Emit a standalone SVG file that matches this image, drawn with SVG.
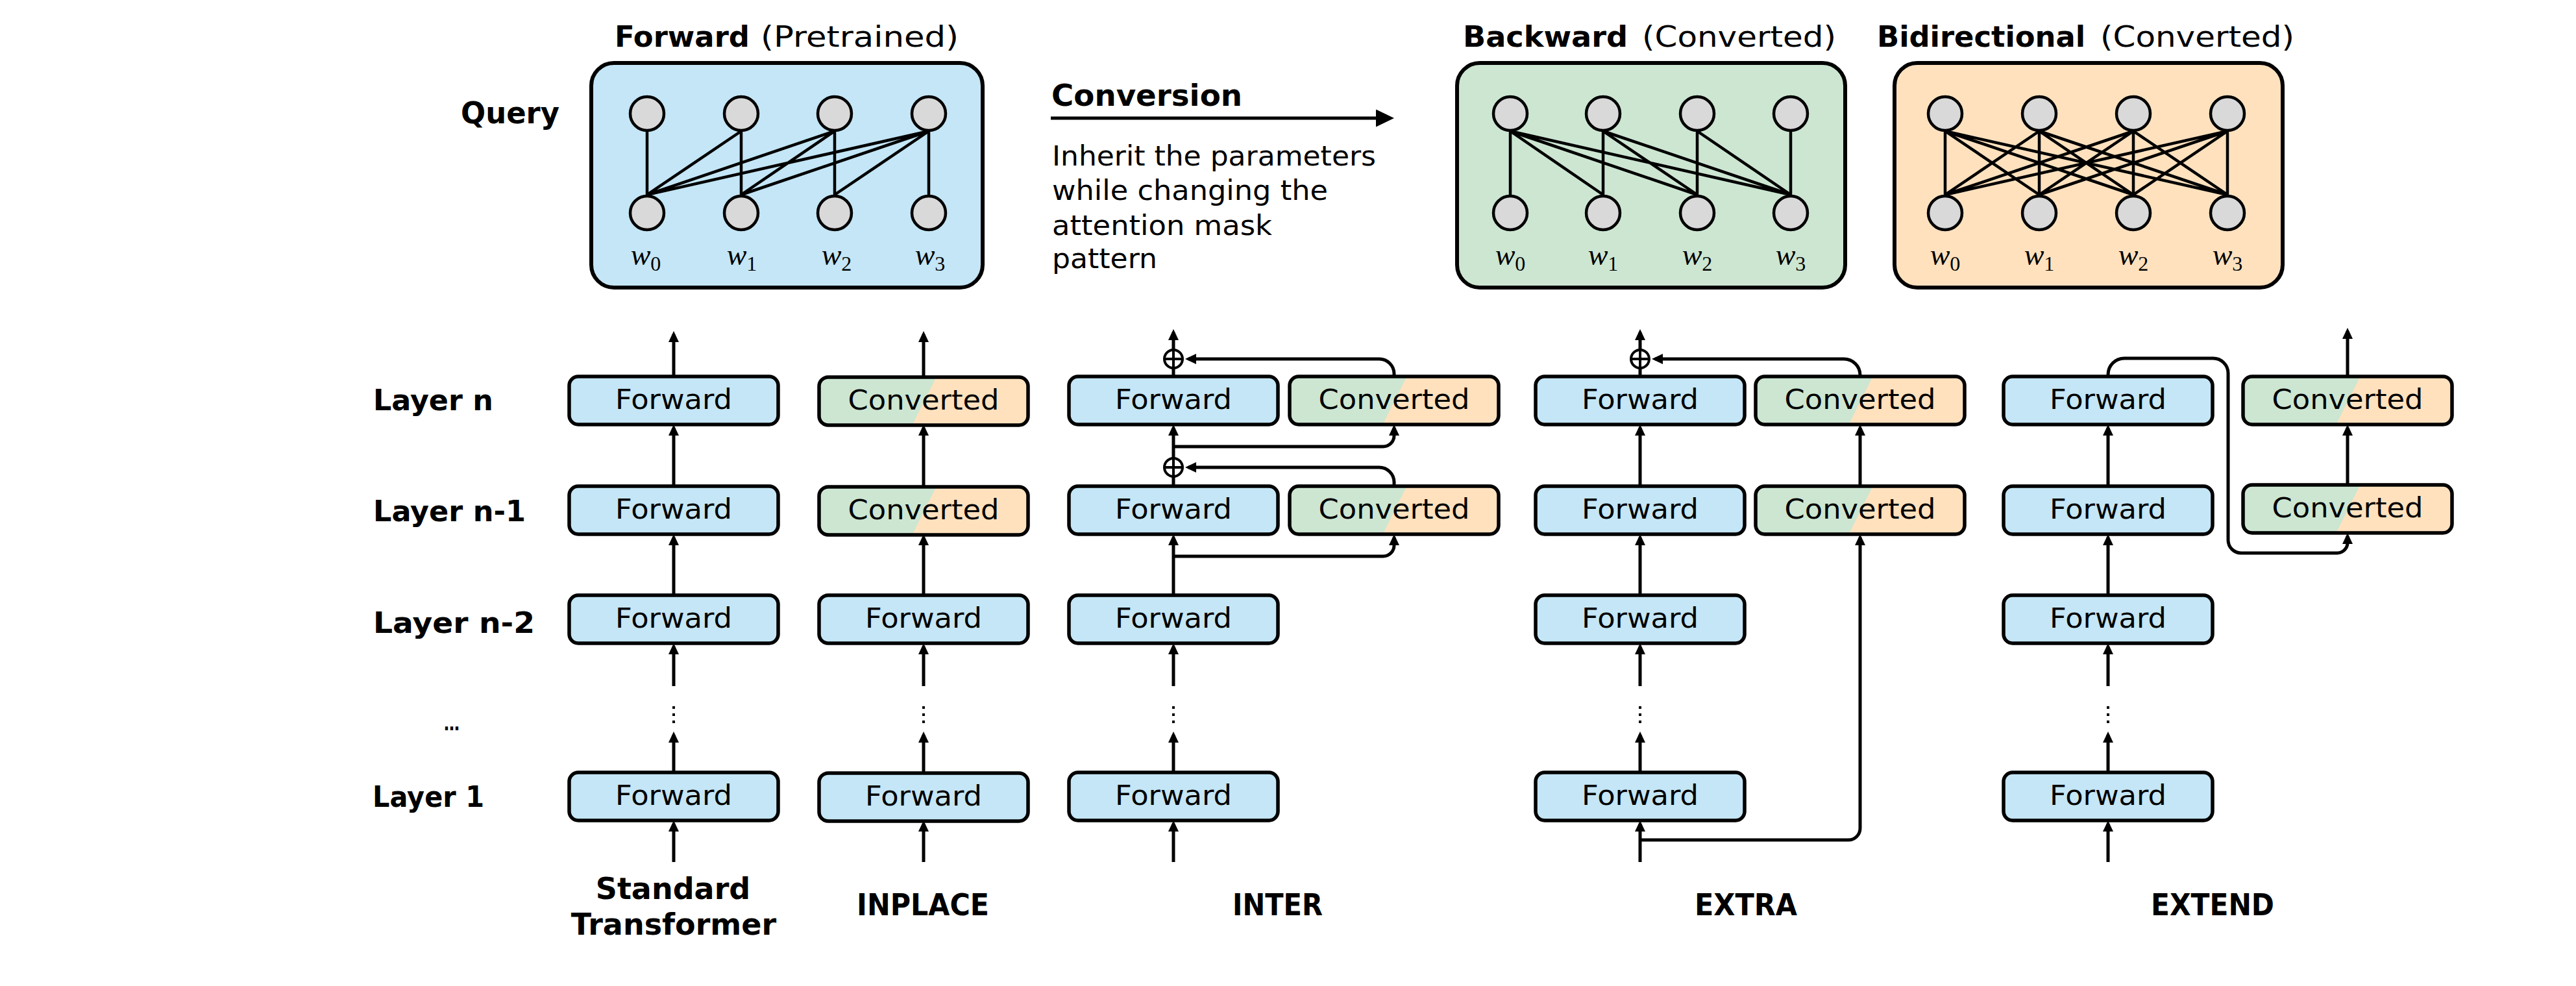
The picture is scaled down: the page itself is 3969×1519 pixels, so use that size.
<svg xmlns="http://www.w3.org/2000/svg" width="3969" height="1519" viewBox="0 0 3969 1519">
<defs>
<style>
.t{font-family:"DejaVu Sans","Liberation Sans",sans-serif;fill:#000}
.b{font-weight:700}
.box{stroke:#000;stroke-width:5.5}
.big{stroke:#000;stroke-width:6}
.fw{fill:#C4E6F6}
.bw{fill:#CCE6D2}
.bd{fill:#FFE1BE}
.cv{fill:url(#cg)}
.bt{font-size:43px;text-anchor:middle}
.ln{fill:none;stroke:#000;stroke-width:5}
.arr{marker-end:url(#ah)}
.dots{fill:none;stroke:#000;stroke-width:4;stroke-dasharray:4 7}
.edge{fill:none;stroke:#000;stroke-width:4.5}
.node{fill:#D9D9D9;stroke:#000;stroke-width:4.5}
.w{font-family:"Liberation Serif","DejaVu Serif",serif;font-style:italic;font-size:46px;text-anchor:middle}
.sub{font-size:32px;font-style:normal}
.plus{fill:#fff;stroke:#000;stroke-width:4}
</style>
<linearGradient id="cg" x1="0.003" y1="0.443" x2="1.003" y2="0.557">
<stop offset="0" stop-color="#CCE6D2"/><stop offset="0.5" stop-color="#CCE6D2"/>
<stop offset="0.5" stop-color="#FFE1BE"/><stop offset="1" stop-color="#FFE1BE"/>
</linearGradient>
<marker id="ah" viewBox="0 0 17 16" refX="12" refY="8" markerWidth="17" markerHeight="16" markerUnits="userSpaceOnUse" orient="auto"><path d="M0,0L17,8L0,16z" fill="#000"/></marker>
<marker id="ahL" viewBox="0 0 28 27" refX="3" refY="13.5" markerWidth="28" markerHeight="27" markerUnits="userSpaceOnUse" orient="auto"><path d="M0,0L28,13.5L0,27z" fill="#000"/></marker>
</defs>
<rect width="3969" height="1519" fill="#fff"/>

<!-- Top: attention patterns -->
<g id="title-forward" class="t">
<text x="947" y="72" font-size="44" class="b" textLength="208" lengthAdjust="spacingAndGlyphs">Forward</text>
<text x="1172" y="72" font-size="44" textLength="305" lengthAdjust="spacingAndGlyphs">(Pretrained)</text>
</g>
<g id="title-backward" class="t">
<text x="2254" y="72" font-size="44" class="b" textLength="254" lengthAdjust="spacingAndGlyphs">Backward</text>
<text x="2530" y="72" font-size="44" textLength="299" lengthAdjust="spacingAndGlyphs">(Converted)</text>
</g>
<g id="title-bidirectional" class="t">
<text x="2892" y="72" font-size="44" class="b" textLength="321" lengthAdjust="spacingAndGlyphs">Bidirectional</text>
<text x="3236" y="72" font-size="44" textLength="299" lengthAdjust="spacingAndGlyphs">(Converted)</text>
</g>
<g id="label-query" class="t"><text x="710" y="190" font-size="46" class="b" textLength="152" lengthAdjust="spacingAndGlyphs">Query</text></g>

<g id="panel-forward">
<rect x="911" y="97" width="603" height="346" rx="35" class="big fw"/>
<path class="edge" d="M997,202L997,300 M1142,202L997,300 M1142,202L1142,300 M1286,202L997,300 M1286,202L1142,300 M1286,202L1286,300 M1431,202L997,300 M1431,202L1142,300 M1431,202L1286,300 M1431,202L1431,300"/>
<circle cx="997" cy="175" r="26" class="node"/><circle cx="1142" cy="175" r="26" class="node"/><circle cx="1286" cy="175" r="26" class="node"/><circle cx="1431" cy="175" r="26" class="node"/>
<circle cx="997" cy="328" r="26" class="node"/><circle cx="1142" cy="328" r="26" class="node"/><circle cx="1286" cy="328" r="26" class="node"/><circle cx="1431" cy="328" r="26" class="node"/>
<text class="w" x="995" y="408">w<tspan class="sub" dy="9">0</tspan></text>
<text class="w" x="1143" y="408">w<tspan class="sub" dy="9">1</tspan></text>
<text class="w" x="1289" y="408">w<tspan class="sub" dy="9">2</tspan></text>
<text class="w" x="1433" y="408">w<tspan class="sub" dy="9">3</tspan></text>
</g>

<g id="panel-backward">
<rect x="2245" y="97" width="598" height="346" rx="35" class="big bw"/>
<path class="edge" d="M2327,202L2327,300 M2327,202L2470,300 M2327,202L2615,300 M2327,202L2759,300 M2470,202L2470,300 M2470,202L2615,300 M2470,202L2759,300 M2615,202L2615,300 M2615,202L2759,300 M2759,202L2759,300"/>
<circle cx="2327" cy="175" r="26" class="node"/><circle cx="2470" cy="175" r="26" class="node"/><circle cx="2615" cy="175" r="26" class="node"/><circle cx="2759" cy="175" r="26" class="node"/>
<circle cx="2327" cy="328" r="26" class="node"/><circle cx="2470" cy="328" r="26" class="node"/><circle cx="2615" cy="328" r="26" class="node"/><circle cx="2759" cy="328" r="26" class="node"/>
<text class="w" x="2327" y="408">w<tspan class="sub" dy="9">0</tspan></text>
<text class="w" x="2470" y="408">w<tspan class="sub" dy="9">1</tspan></text>
<text class="w" x="2615" y="408">w<tspan class="sub" dy="9">2</tspan></text>
<text class="w" x="2759" y="408">w<tspan class="sub" dy="9">3</tspan></text>
</g>

<g id="panel-bidirectional">
<rect x="2919" y="97" width="598" height="346" rx="35" class="big bd"/>
<path class="edge" d="M2997,202L2997,300 M2997,202L3142,300 M2997,202L3287,300 M2997,202L3432,300 M3142,202L2997,300 M3142,202L3142,300 M3142,202L3287,300 M3142,202L3432,300 M3287,202L2997,300 M3287,202L3142,300 M3287,202L3287,300 M3287,202L3432,300 M3432,202L2997,300 M3432,202L3142,300 M3432,202L3287,300 M3432,202L3432,300"/>
<circle cx="2997" cy="175" r="26" class="node"/><circle cx="3142" cy="175" r="26" class="node"/><circle cx="3287" cy="175" r="26" class="node"/><circle cx="3432" cy="175" r="26" class="node"/>
<circle cx="2997" cy="328" r="26" class="node"/><circle cx="3142" cy="328" r="26" class="node"/><circle cx="3287" cy="328" r="26" class="node"/><circle cx="3432" cy="328" r="26" class="node"/>
<text class="w" x="2997" y="408">w<tspan class="sub" dy="9">0</tspan></text>
<text class="w" x="3142" y="408">w<tspan class="sub" dy="9">1</tspan></text>
<text class="w" x="3287" y="408">w<tspan class="sub" dy="9">2</tspan></text>
<text class="w" x="3432" y="408">w<tspan class="sub" dy="9">3</tspan></text>
</g>

<g id="conversion" class="t">
<text x="1620" y="163" font-size="47" class="b" textLength="294" lengthAdjust="spacingAndGlyphs">Conversion</text>
<path d="M1619,182H2123" class="ln" marker-end="url(#ahL)"/>
<text x="1621" y="255" font-size="43" textLength="499" lengthAdjust="spacingAndGlyphs">Inherit the parameters</text>
<text x="1621" y="308" font-size="43" textLength="425" lengthAdjust="spacingAndGlyphs">while changing the</text>
<text x="1621" y="362" font-size="43" textLength="339" lengthAdjust="spacingAndGlyphs">attention mask</text>
<text x="1621" y="413" font-size="43" textLength="162" lengthAdjust="spacingAndGlyphs">pattern</text>
</g>

<!-- Row labels -->
<g id="row-labels" class="t b" font-size="44">
<text x="575" y="632" textLength="185" lengthAdjust="spacingAndGlyphs">Layer n</text>
<text x="575" y="803" textLength="235" lengthAdjust="spacingAndGlyphs">Layer n-1</text>
<text x="575" y="975" textLength="249" lengthAdjust="spacingAndGlyphs">Layer n-2</text>
<text x="684" y="1125" font-size="30" textLength="24" lengthAdjust="spacingAndGlyphs">…</text>
<text x="574" y="1243" textLength="172" lengthAdjust="spacingAndGlyphs">Layer 1</text>
</g>

<!-- Column titles -->
<g id="col-titles" class="t b" font-size="46">
<text x="1037" y="1385" text-anchor="middle">Standard<tspan x="1038" y="1440">Transformer</tspan></text>
<text x="1320" y="1410" textLength="204" lengthAdjust="spacingAndGlyphs">INPLACE</text>
<text x="1899" y="1410" textLength="139" lengthAdjust="spacingAndGlyphs">INTER</text>
<text x="2611" y="1410" textLength="158" lengthAdjust="spacingAndGlyphs">EXTRA</text>
<text x="3314" y="1410" textLength="190" lengthAdjust="spacingAndGlyphs">EXTEND</text>
</g>

<!-- Connectors -->
<g id="connectors">
<!-- Standard -->
<path class="ln arr" d="M1038,580V515"/><path class="ln arr" d="M1038,749V659"/><path class="ln arr" d="M1038,917V828"/>
<path class="ln arr" d="M1038,1057V996"/><path class="dots" d="M1038,1088V1114"/><path class="ln arr" d="M1038,1190V1132"/><path class="ln arr" d="M1038,1328V1269"/>
<!-- INPLACE -->
<path class="ln arr" d="M1423,580V515"/><path class="ln arr" d="M1423,749V659"/><path class="ln arr" d="M1423,917V828"/>
<path class="ln arr" d="M1423,1057V996"/><path class="dots" d="M1423,1088V1114"/><path class="ln arr" d="M1423,1190V1132"/><path class="ln arr" d="M1423,1328V1269"/>
<!-- INTER -->
<path class="ln arr" d="M1808,538V512"/><path class="ln" d="M1808,580V568"/>
<path class="ln arr" d="M2148,580V576A23,23 0 0 0 2125,553H1831"/>
<path class="ln arr" d="M1808,705V659"/>
<path class="ln arr" d="M1808,688H2131A17,17 0 0 0 2148,671V659"/>
<path class="ln" d="M1808,749V735"/>
<path class="ln arr" d="M2148,749V743A23,23 0 0 0 2125,720H1831"/>
<path class="ln arr" d="M1808,917V828"/>
<path class="ln arr" d="M1808,857H2131A17,17 0 0 0 2148,840V828"/>
<path class="ln arr" d="M1808,1057V996"/><path class="dots" d="M1808,1088V1114"/><path class="ln arr" d="M1808,1190V1132"/><path class="ln arr" d="M1808,1328V1269"/>
<!-- EXTRA -->
<path class="ln arr" d="M2527,538V512"/><path class="ln" d="M2527,580V568"/>
<path class="ln arr" d="M2866,580V578A25,25 0 0 0 2841,553H2550"/>
<path class="ln arr" d="M2527,749V659"/><path class="ln arr" d="M2866,749V659"/>
<path class="ln arr" d="M2527,917V828"/>
<path class="ln arr" d="M2527,1057V996"/><path class="dots" d="M2527,1088V1114"/><path class="ln arr" d="M2527,1190V1132"/><path class="ln arr" d="M2527,1328V1269"/>
<path class="ln arr" d="M2527,1294H2848A18,18 0 0 0 2866,1276V828"/>
<!-- EXTEND -->
<path class="ln arr" d="M3617,580V510"/><path class="ln arr" d="M3617,747V659"/>
<path class="ln arr" d="M3248,580V577A25,25 0 0 1 3273,552H3410A23,23 0 0 1 3433,575V832A20,20 0 0 0 3453,852H3601A16,16 0 0 0 3617,836V826"/>
<path class="ln arr" d="M3248,749V659"/><path class="ln arr" d="M3248,917V828"/>
<path class="ln arr" d="M3248,1057V996"/><path class="dots" d="M3248,1088V1114"/><path class="ln arr" d="M3248,1190V1132"/><path class="ln arr" d="M3248,1328V1269"/>
<!-- sum nodes -->
<g id="sum-inter-n"><circle cx="1808" cy="553" r="14" class="plus"/><path class="ln" style="stroke-width:4" d="M1794,553H1822M1808,539V567"/></g>
<g id="sum-inter-n1"><circle cx="1808" cy="720" r="14" class="plus"/><path class="ln" style="stroke-width:4" d="M1794,720H1822M1808,706V734"/></g>
<g id="sum-extra-n"><circle cx="2527" cy="553" r="14" class="plus"/><path class="ln" style="stroke-width:4" d="M2513,553H2541M2527,539V567"/></g>
</g>

<!-- Layer boxes -->
<g id="std-n"><rect x="877" y="580" width="322" height="74" rx="14" class="box fw"/><text class="t bt" x="1038" y="630" textLength="180" lengthAdjust="spacingAndGlyphs">Forward</text></g>
<g id="std-n1"><rect x="877" y="749" width="322" height="74" rx="14" class="box fw"/><text class="t bt" x="1038" y="799" textLength="180" lengthAdjust="spacingAndGlyphs">Forward</text></g>
<g id="std-n2"><rect x="877" y="917" width="322" height="74" rx="14" class="box fw"/><text class="t bt" x="1038" y="967" textLength="180" lengthAdjust="spacingAndGlyphs">Forward</text></g>
<g id="std-1"><rect x="877" y="1190" width="322" height="74" rx="14" class="box fw"/><text class="t bt" x="1038" y="1240" textLength="180" lengthAdjust="spacingAndGlyphs">Forward</text></g>

<g id="inplace-n"><rect x="1262" y="581" width="322" height="74" rx="14" class="box cv"/><text class="t bt" x="1423" y="631" textLength="233" lengthAdjust="spacingAndGlyphs">Converted</text></g>
<g id="inplace-n1"><rect x="1262" y="750" width="322" height="74" rx="14" class="box cv"/><text class="t bt" x="1423" y="800" textLength="233" lengthAdjust="spacingAndGlyphs">Converted</text></g>
<g id="inplace-n2"><rect x="1262" y="917" width="322" height="74" rx="14" class="box fw"/><text class="t bt" x="1423" y="967" textLength="180" lengthAdjust="spacingAndGlyphs">Forward</text></g>
<g id="inplace-1"><rect x="1262" y="1191" width="322" height="74" rx="14" class="box fw"/><text class="t bt" x="1423" y="1241" textLength="180" lengthAdjust="spacingAndGlyphs">Forward</text></g>

<g id="inter-fn"><rect x="1647" y="580" width="322" height="74" rx="14" class="box fw"/><text class="t bt" x="1808" y="630" textLength="180" lengthAdjust="spacingAndGlyphs">Forward</text></g>
<g id="inter-cn"><rect x="1987" y="580" width="322" height="74" rx="14" class="box cv"/><text class="t bt" x="2148" y="630" textLength="233" lengthAdjust="spacingAndGlyphs">Converted</text></g>
<g id="inter-fn1"><rect x="1647" y="749" width="322" height="74" rx="14" class="box fw"/><text class="t bt" x="1808" y="799" textLength="180" lengthAdjust="spacingAndGlyphs">Forward</text></g>
<g id="inter-cn1"><rect x="1987" y="749" width="322" height="74" rx="14" class="box cv"/><text class="t bt" x="2148" y="799" textLength="233" lengthAdjust="spacingAndGlyphs">Converted</text></g>
<g id="inter-fn2"><rect x="1647" y="917" width="322" height="74" rx="14" class="box fw"/><text class="t bt" x="1808" y="967" textLength="180" lengthAdjust="spacingAndGlyphs">Forward</text></g>
<g id="inter-f1"><rect x="1647" y="1190" width="322" height="74" rx="14" class="box fw"/><text class="t bt" x="1808" y="1240" textLength="180" lengthAdjust="spacingAndGlyphs">Forward</text></g>

<g id="extra-fn"><rect x="2366" y="580" width="322" height="74" rx="14" class="box fw"/><text class="t bt" x="2527" y="630" textLength="180" lengthAdjust="spacingAndGlyphs">Forward</text></g>
<g id="extra-cn"><rect x="2705" y="580" width="322" height="74" rx="14" class="box cv"/><text class="t bt" x="2866" y="630" textLength="233" lengthAdjust="spacingAndGlyphs">Converted</text></g>
<g id="extra-fn1"><rect x="2366" y="749" width="322" height="74" rx="14" class="box fw"/><text class="t bt" x="2527" y="799" textLength="180" lengthAdjust="spacingAndGlyphs">Forward</text></g>
<g id="extra-cn1"><rect x="2705" y="749" width="322" height="74" rx="14" class="box cv"/><text class="t bt" x="2866" y="799" textLength="233" lengthAdjust="spacingAndGlyphs">Converted</text></g>
<g id="extra-fn2"><rect x="2366" y="917" width="322" height="74" rx="14" class="box fw"/><text class="t bt" x="2527" y="967" textLength="180" lengthAdjust="spacingAndGlyphs">Forward</text></g>
<g id="extra-f1"><rect x="2366" y="1190" width="322" height="74" rx="14" class="box fw"/><text class="t bt" x="2527" y="1240" textLength="180" lengthAdjust="spacingAndGlyphs">Forward</text></g>

<g id="extend-fn"><rect x="3087" y="580" width="322" height="74" rx="14" class="box fw"/><text class="t bt" x="3248" y="630" textLength="180" lengthAdjust="spacingAndGlyphs">Forward</text></g>
<g id="extend-cn"><rect x="3456" y="580" width="322" height="74" rx="14" class="box cv"/><text class="t bt" x="3617" y="630" textLength="233" lengthAdjust="spacingAndGlyphs">Converted</text></g>
<g id="extend-fn1"><rect x="3087" y="749" width="322" height="74" rx="14" class="box fw"/><text class="t bt" x="3248" y="799" textLength="180" lengthAdjust="spacingAndGlyphs">Forward</text></g>
<g id="extend-cn1"><rect x="3456" y="747" width="322" height="74" rx="14" class="box cv"/><text class="t bt" x="3617" y="797" textLength="233" lengthAdjust="spacingAndGlyphs">Converted</text></g>
<g id="extend-fn2"><rect x="3087" y="917" width="322" height="74" rx="14" class="box fw"/><text class="t bt" x="3248" y="967" textLength="180" lengthAdjust="spacingAndGlyphs">Forward</text></g>
<g id="extend-f1"><rect x="3087" y="1190" width="322" height="74" rx="14" class="box fw"/><text class="t bt" x="3248" y="1240" textLength="180" lengthAdjust="spacingAndGlyphs">Forward</text></g>
</svg>
